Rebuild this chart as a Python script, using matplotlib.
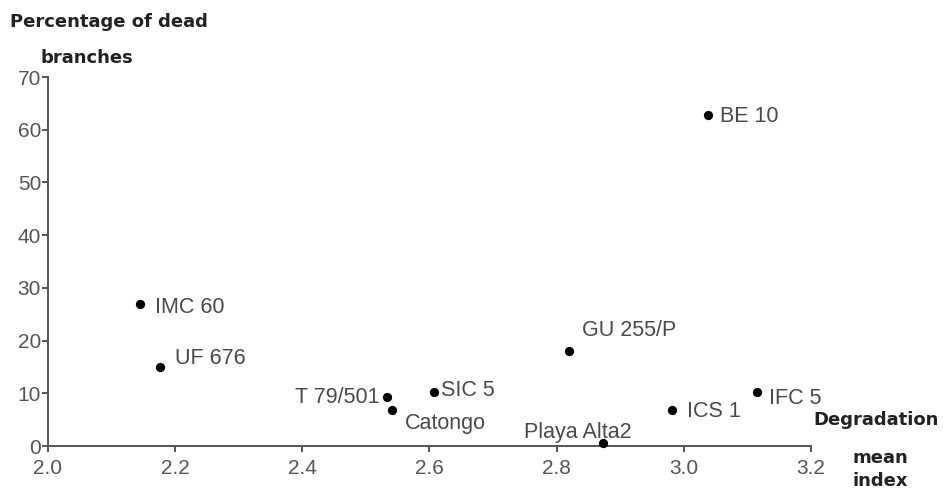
import matplotlib
matplotlib.use("Agg")
import matplotlib.pyplot as plt

names = ["BE 10", "IMC 60", "UF 676", "T 79/501", "Catongo", "SIC 5",
         "GU 255/P", "Playa Alta2", "ICS 1", "IFC 5"]
degradation = [3.038, 2.145, 2.176, 2.533, 2.541, 2.607, 2.819, 2.873, 2.981, 3.115]
dead_pct = [62.8, 26.9, 15.0, 9.3, 6.8, 10.2, 18.0, 0.5, 6.8, 10.2]
x_ticks = [2.0, 2.2, 2.4, 2.6, 2.8, 3.0, 3.2]
y_ticks = [0, 10, 20, 30, 40, 50, 60, 70]

# label offsets in points (dx, dy), horizontal alignment
label_pos = {
    "BE 10": (8.6, -1.4, "left"),
    "IMC 60": (10.8, -2.2, "left"),
    "UF 676": (10.8, 5.8, "left"),
    "T 79/501": (-5, -0.7, "right"),
    "Catongo": (9.4, -9.4, "left"),
    "SIC 5": (5, 1.4, "left"),
    "GU 255/P": (9.4, 15.1, "left"),
    "Playa Alta2": (-18, 8, "center"),
    "ICS 1": (10.8, -0.7, "left"),
    "IFC 5": (8.6, -4.3, "left"),
}

plt.rcParams['font.family'] = ['Liberation Sans', 'DejaVu Sans']
fig = plt.figure(figsize=(9.43, 4.91), dpi=100)
ax = fig.add_axes([0.0509, 0.0916, 0.8091, 0.7514])
ax.scatter(degradation, dead_pct, s=32, color="black", zorder=3, clip_on=False)
for n, x, y in zip(names, degradation, dead_pct):
    dx, dy, ha = label_pos[n]
    ax.annotate(n, (x, y), xytext=(dx, dy), textcoords="offset points",
                ha=ha, va="center", fontsize=15.5, color="#4a4a4a")

ax.set_xlim(2.0, 3.2)
ax.set_ylim(0, 70)
ax.set_xticks(x_ticks)
ax.set_xticklabels([f"{v:.1f}" for v in x_ticks])
ax.set_yticks(y_ticks)
for s in ["top", "right"]:
    ax.spines[s].set_visible(False)
for s in ["left", "bottom"]:
    ax.spines[s].set_color("#555555")
    ax.spines[s].set_linewidth(1.4)
ax.tick_params(axis="both", direction="out", length=4, width=1.4, color="#555555",
               labelsize=15, labelcolor="#555555")
ax.tick_params(axis="x", pad=5)
ax.tick_params(axis="y", pad=1)

bold = dict(fontsize=13, fontweight="bold", family="DejaVu Sans",
            color="#222222", ha="left", va="center")
fig.text(10/943, 1 - 22/491, "Percentage of dead", **bold)
fig.text(40/943, 1 - 58/491, "branches", **bold)
fig.text(813/943, 1 - 420/491, "Degradation", **bold)
fig.text(853/943, 1 - 458/491, "mean", **bold)
fig.text(853/943, 1 - 481/491, "index", **bold)

fig.savefig("out.png", dpi=100)
